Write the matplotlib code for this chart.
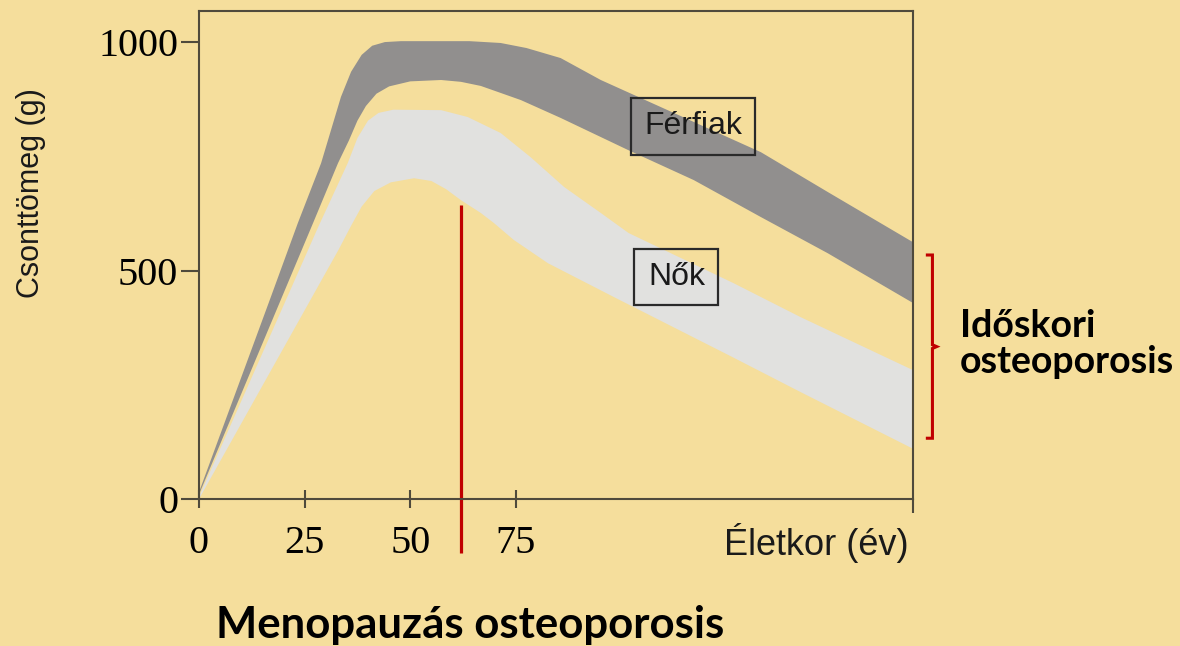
import numpy as np
import matplotlib
matplotlib.use("Agg")
import matplotlib.pyplot as plt

# Csonttömeg (g) az életkor függvényében -- sávok (felső és alsó határ)
men_upper_age = [0, 17, 23.4, 28.9, 33.6, 36, 38.5, 41, 44, 47.8, 64, 71.4, 77.5, 85.6, 95.1, 115, 133, 148.8, 169]
men_upper_mass = [15, 442, 604, 735, 880, 935, 972, 992, 1000, 1002, 1002, 998, 987, 965, 917, 834, 759, 672, 562]
men_lower_age = [0, 27, 32.9, 35.5, 37.5, 39.5, 42, 45, 50, 57.3, 62, 66.7, 71, 76.2, 85.6, 101.5, 117.1, 133, 148.8, 169]
men_lower_mass = [10, 604, 735, 785, 828, 860, 887, 903, 914, 917, 913, 904, 890, 873, 834, 764, 698, 617, 538, 429]

women_upper_age = [0, 28.2, 35.2, 37.5, 40, 42.5, 46, 57.3, 63.6, 71.4, 78.5, 86.4, 95.1, 101.7, 126.6, 142.4, 169]
women_upper_mass = [5, 595, 735, 790, 828, 845, 852, 851, 836, 801, 748, 683, 626, 582, 472, 398, 282]
women_lower_age = [0, 33, 36, 38.5, 41.5, 45.4, 50.9, 55, 58.5, 62, 66.7, 69.8, 74.5, 82.6, 90.4, 98.2, 126.6, 142.4, 169]
women_lower_mass = [0, 545, 598, 640, 674, 693, 702, 696, 678, 654, 626, 604, 567, 516, 479, 442, 309, 234, 110]

x_ticks = [0, 25, 50, 75]
y_ticks = [0, 500, 1000]
menopause_age = 62
menopause_top = 643
bracket_age = 173.6
bracket_range = (534, 133)

bg = "#F5DE9C"
dark = "#918f8e"
light = "#E1E1DF"
red = "#C00000"

fig = plt.figure(figsize=(11.8, 6.46), dpi=100, facecolor=bg)
ax = fig.add_axes([199 / 1180, 1 - 499 / 646, (913 - 199) / 1180, (499 - 11) / 646])
ax.set_facecolor(bg)

ax.fill(men_upper_age + men_lower_age[::-1], men_upper_mass + men_lower_mass[::-1],
        color=dark, lw=0)
ax.fill(women_upper_age + women_lower_age[::-1], women_upper_mass + women_lower_mass[::-1],
        color=light, lw=0)

ax.set_xlim(0, 169)
ax.set_ylim(0, 1068)

spine_c = "#4f4a3c"
for s in ax.spines.values():
    s.set_color(spine_c)
    s.set_linewidth(1.5)

ax.set_xticks(x_ticks)
ax.set_xticklabels([str(v) for v in x_ticks])
ax.set_xticks([0, 169], minor=True)
ax.set_yticks(y_ticks)
ax.set_yticklabels([str(v) for v in y_ticks])
ax.tick_params(axis="y", direction="out", length=13, width=1.5, color=spine_c, pad=2,
               labelsize=29)
ax.tick_params(axis="x", which="major", direction="inout", length=13, width=1.5,
               color=spine_c, pad=12, labelsize=29)
ax.tick_params(axis="x", which="minor", direction="out", length=10, width=1.5,
               color=spine_c)
for lab in ax.get_xticklabels() + ax.get_yticklabels():
    lab.set_fontfamily("Liberation Serif")

# feliratok
fig.text(31 / 1180, 1 - 193 / 646, "Csonttömeg (g)", rotation=90, ha="center", va="center",
         fontsize=22, family="Liberation Sans", color="#1a1a1a")
ax.annotate("Életkor (év)", xy=(1, 0), xycoords="axes fraction", xytext=(-3, -17),
            textcoords="offset points", ha="right", va="top", fontsize=26,
            family="Liberation Sans", color="#1a1a1a")

box = dict(boxstyle="square,pad=0.42", fc="none", ec="#2a2a2a", lw=1.6)
ax.text(116.9, 816, "Férfiak", ha="center", va="center", fontsize=23,
        family="Liberation Sans", color="#1a1a1a", bbox=box)
ax.text(113, 486, "Nők", ha="center", va="center", fontsize=23,
        family="Liberation Sans", color="#1a1a1a", bbox=box)

# menopauza vonal
ax.plot([menopause_age, menopause_age], [menopause_top, -118], color=red, lw=2.3,
        clip_on=False, solid_capstyle="butt")

# időskori zárójel
b_top, b_bot = bracket_range
b_mid = (b_top + b_bot) / 2
ax.plot([bracket_age - 1.2, bracket_age, bracket_age, bracket_age + 1.0, bracket_age,
         bracket_age, bracket_age - 1.2],
        [b_top, b_top, b_mid + 4, b_mid, b_mid - 4, b_bot, b_bot],
        color=red, lw=2.2, clip_on=False, solid_joinstyle="miter")

fig.text(960 / 1180, 1 - 344 / 646, "Időskori\nosteoporosis", ha="left", va="center",
         fontsize=27, fontweight="bold", family="Lato", linespacing=1.1, color="black")
fig.text(470 / 1180, 1 - 625 / 646, "Menopauzás osteoporosis", ha="center", va="center",
         fontsize=31.5, fontweight="bold", family="Lato", color="black")

fig.savefig("out.png", dpi=100, facecolor=bg)
